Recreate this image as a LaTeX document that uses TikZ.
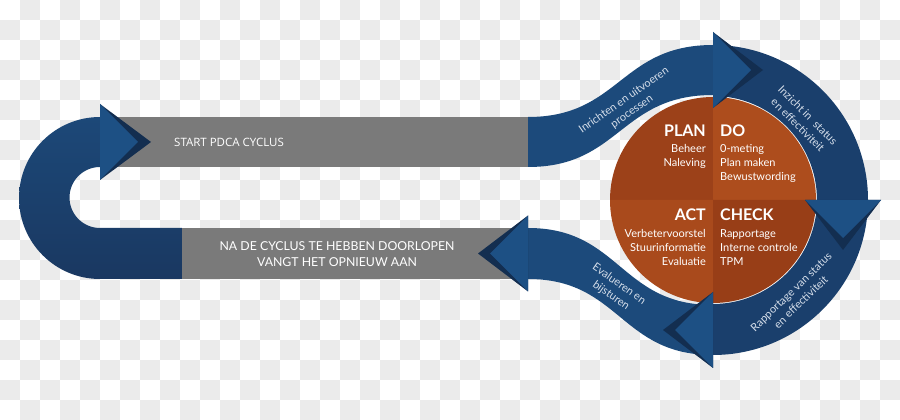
\documentclass[tikz,border=0pt]{standalone}
\usepackage{fontspec}
\setmainfont{Lato}
\newfontfamily\barfont{Open Sans}
\usepackage{tikz}
\usetikzlibrary{positioning}

\definecolor{checkgrey}{HTML}{EBEBEB}
\definecolor{bargrey}{HTML}{7A7A7A}
\definecolor{bandblue}{HTML}{1C4A7B}
\definecolor{ringblue}{HTML}{1A3F6C}
\definecolor{utop}{HTML}{1C4878}
\definecolor{ubottom}{HTML}{1A3861}
\definecolor{headblue}{HTML}{1D5084}
\definecolor{shadowblue}{HTML}{132E50}
\definecolor{plancol}{HTML}{9C4119}
\definecolor{docol}{HTML}{AD4D1D}
\definecolor{actcol}{HTML}{A94A1C}
\definecolor{checkcol}{HTML}{983E17}
\definecolor{labelcol}{HTML}{D5DEEA}

\begin{document}
\begin{tikzpicture}[
  x=1pt, y=1pt,
  checker/.style={fill=checkgrey},
  greybar/.style={fill=bargrey},
  band/.style={fill=bandblue},
  ring/.style={fill=ringblue},
  head/.style={fill=headblue},
  headshadow/.style={fill=shadowblue},
  qhead/.style={font=\fontsize{16}{18}\selectfont\bfseries, text=white,
    inner sep=0pt},
  qitems/.style={font=\fontsize{11}{14}\selectfont, text=white,
    inner sep=0pt},
  flowlabel/.style={font=\fontsize{11}{14}\selectfont, text=labelcol,
    align=center, inner sep=0pt},
  bartext/.style={text=white, inner sep=0pt}
]
\useasboundingbox (0,0) rectangle (900,420);
\fill[white] (0,0) rectangle (900,420);
\foreach \i in {0,...,44} {
  \foreach \k in {0,...,20} {
    \pgfmathtruncatemacro{\odd}{mod(\i+\k,2)}
    \ifnum\odd=1
      \fill[checker] (20*\i,20*\k) rectangle +(20,20);
    \fi
  }
}

\coordinate (c) at (713,220);

\fill[greybar] (100,253) rectangle (528,303);
\fill[greybar] (182,141) rectangle (528,192);

\shade[top color=utop, bottom color=ubottom] (182,192) -- (100,192)
  arc[start angle=270, end angle=90, radius=30.5] -- (100,303)
  arc[start angle=90, end angle=270, radius=81] -- (182,141) -- cycle;
\fill[band] (528,303) .. controls (620,303) and (620,375) .. (713,375)
  -- (713,325) .. controls (620,325) and (620,253) .. (528,253) -- cycle;
\fill[band] (713,115) .. controls (620,115) and (620,192) .. (528,192)
  -- (528,141) .. controls (620,141) and (620,65) .. (713,65) -- cycle;
\fill[ring] (713,375) arc[start angle=90, end angle=0, radius=155]
  -- (817,220) arc[start angle=0, end angle=90, radius=104] -- cycle;
\fill[ring] (868,220) arc[start angle=0, end angle=-90, radius=155]
  -- (713,116) arc[start angle=-90, end angle=0, radius=104] -- cycle;

\fill[plancol] (c) -- (713,323) arc[start angle=90, end angle=180,
  radius=103] -- cycle;
\fill[docol] (c) -- (816,220) arc[start angle=0, end angle=90,
  radius=103] -- cycle;
\fill[actcol] (c) -- (610,220) arc[start angle=180, end angle=270,
  radius=103] -- cycle;
\fill[checkcol] (c) -- (713,117) arc[start angle=270, end angle=360,
  radius=103] -- cycle;

\fill[headshadow] (713,388) -- (763,350) -- (713,312) -- cycle;
\fill[head] (713,388) -- (751,350) -- (713,312) -- cycle;
\fill[headshadow] (805,220) -- (843,170) -- (881,220) -- cycle;
\fill[head] (805,220) -- (843,182) -- (881,220) -- cycle;
\fill[headshadow] (713,128) -- (663,90) -- (713,52) -- cycle;
\fill[head] (713,128) -- (675,90) -- (713,52) -- cycle;
\fill[headshadow] (528,204.5) -- (478,166.5) -- (528,128.5) -- cycle;
\fill[head] (528,204.5) -- (490,166.5) -- (528,128.5) -- cycle;
\fill[headshadow] (100,316) -- (151,278) -- (100,240) -- cycle;
\fill[head] (100,316) -- (138,278) -- (100,240) -- cycle;

\node[bartext, anchor=west, font=\barfont\fontsize{11.5}{14}\selectfont]
  (start) at (174,278) {START PDCA CYCLUS};
\node[bartext, align=center, font=\fontsize{12.3}{16}\selectfont]
  (restart) at (337,166)
  {NA DE CYCLUS TE HEBBEN DOORLOPEN\\VANGT HET OPNIEUW AAN};

\node[qhead, anchor=base east] (plan) at (706,283) {PLAN};
\node[qhead, anchor=base west] (do) at (720,283) {DO};
\node[qitems, anchor=north east, align=right] (planitems) at (706,276)
  {Beheer\\Naleving};
\node[qitems, anchor=north west, align=left] (doitems) at (720,276)
  {0-meting\\Plan maken\\Bewustwording};
\node[qhead, anchor=base east] (act) at (706,199) {ACT};
\node[qhead, anchor=base west] (check) at (720,199) {CHECK};
\node[qitems, anchor=north east, align=right] (actitems) at (706,191)
  {Verbetervoorstel\\Stuurinformatie\\Evaluatie};
\node[qitems, anchor=north west, align=left] (checkitems) at (720,191)
  {Rapportage\\Interne controle\\TPM};

\node[flowlabel, rotate=35] (inrichten) at (628,314)
  {Inrichten en uitvoeren\\processen};
\node[flowlabel, rotate=-45] (inzicht) at (803,300)
  {Inzicht in\ \ status\\en effectiviteit};
\node[flowlabel, rotate=44] (rapportage) at (796,123)
  {Rapportage van status\\en effectiviteit};
\node[flowlabel, rotate=-35] (evalueren) at (615,130)
  {Evalueren en\\bijsturen};
\end{tikzpicture}
\end{document}
